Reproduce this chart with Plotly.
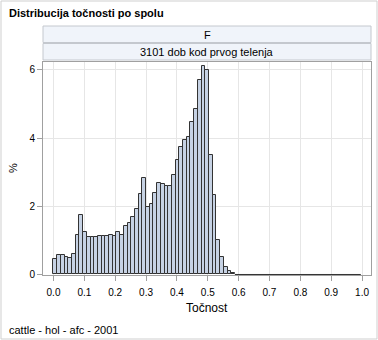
import plotly.graph_objects as go

# ---- data ----
BIN_START = 0.0
BIN_WIDTH = 0.012
N_BINS = 83
percent_nonzero = [
    0.45, 0.57, 0.57, 0.52, 0.47, 0.61, 1.16, 1.74, 1.26, 1.11,
    1.10, 1.09, 1.12, 1.13, 1.13, 1.15, 1.14, 1.24, 1.17, 1.43,
    1.52, 1.68, 1.92, 2.36, 2.82, 1.97, 2.07, 2.38, 2.69, 2.66,
    2.60, 2.60, 2.91, 3.36, 3.73, 3.94, 4.02, 4.47, 4.84, 5.70,
    6.10, 6.00, 3.49, 2.32, 1.01, 0.52, 0.21, 0.09, 0.03,
]
percent = percent_nonzero + [0.0] * (N_BINS - len(percent_nonzero))
x_ticks = [0.0, 0.1, 0.2, 0.3, 0.4, 0.5, 0.6, 0.7, 0.8, 0.9, 1.0]
y_ticks = [0, 2, 4, 6]
title_text = "Distribucija točnosti po spolu"
strip1_text = "F"
strip2_text = "3101 dob kod prvog telenja"
x_label = "Točnost"
y_label = "%"
footnote = "cattle - hol - afc - 2001"

# ---- layout geometry (pixels) ----
W, H = 378, 340
L, R, T, B = 43, 7, 62, 65
PW, PH = W - L - R, H - T - B


def px(x):
    return (x - L) / PW


def py(y):
    return (H - B - y) / PH


FONT = "Liberation Sans, Arial, sans-serif"

centers = [BIN_START + (i + 0.5) * BIN_WIDTH for i in range(N_BINS)]
bar_x = [c for c, v in zip(centers, percent) if v > 0]
bar_y = [v for v in percent if v > 0]
zero_edges = []
for c, v in zip(centers, percent):
    if v == 0:
        zero_edges += [c - BIN_WIDTH / 2, c + BIN_WIDTH / 2]
zero_x = [min(zero_edges), max(zero_edges)] if zero_edges else []

fig = go.Figure()
fig.add_trace(go.Bar(
    x=bar_x, y=bar_y, width=BIN_WIDTH,
    marker=dict(color="#C6D2E4", line=dict(color="#333333", width=1)),
    hoverinfo="skip", showlegend=False,
))
if zero_x:
    fig.add_trace(go.Scatter(
        x=zero_x, y=[0, 0], mode="lines",
        line=dict(color="#333333", width=1),
        hoverinfo="skip", showlegend=False,
    ))

fig.update_layout(
    width=W, height=H,
    margin=dict(l=L, r=R, t=T, b=B),
    paper_bgcolor="white", plot_bgcolor="white",
    font=dict(family=FONT, size=10, color="#000000"),
    bargap=0,
    xaxis=dict(
        range=[-0.034, 1.029], tickvals=x_ticks, tickformat=".1f",
        showgrid=True, gridcolor="#E6E6E6", gridwidth=1,
        showline=True, linecolor="#A0A0A0", linewidth=1, mirror=True,
        ticks="outside", ticklen=5, tickcolor="#A0A0A0",
        ticklabelstandoff=3,
        tickfont=dict(size=10, family=FONT), zeroline=False,
    ),
    yaxis=dict(
        range=[-0.015, 6.23], tickvals=y_ticks,
        showgrid=True, gridcolor="#E6E6E6", gridwidth=1,
        showline=True, linecolor="#A0A0A0", linewidth=1, mirror=True,
        ticks="outside", ticklen=5, tickcolor="#A0A0A0",
        tickfont=dict(size=10, family=FONT), zeroline=False,
    ),
    shapes=[
        # outer border
        dict(type="rect", xref="paper", yref="paper",
             x0=px(1), x1=px(377), y0=py(339), y1=py(1),
             line=dict(color="#CFCFCF", width=1), fillcolor="rgba(0,0,0,0)",
             layer="below"),
        # strip 1
        dict(type="rect", xref="paper", yref="paper",
             x0=0, x1=1, y0=py(42.5), y1=py(26),
             line=dict(color="#C4C8CE", width=1), fillcolor="#F0F4FA"),
        # strip 2
        dict(type="rect", xref="paper", yref="paper",
             x0=0, x1=1, y0=py(60), y1=py(43.5),
             line=dict(color="#C4C8CE", width=1), fillcolor="#F0F4FA"),
    ],
    annotations=[
        dict(text="<b>" + title_text + "</b>", xref="paper", yref="paper",
             x=px(7), y=py(13), xanchor="left", yanchor="middle",
             showarrow=False, font=dict(size=11, family=FONT)),
        dict(text=strip1_text, xref="paper", yref="paper",
             x=0.5, y=py(34.5), xanchor="center", yanchor="middle",
             showarrow=False, font=dict(size=11, family=FONT)),
        dict(text=strip2_text, xref="paper", yref="paper",
             x=0.5, y=py(51.5), xanchor="center", yanchor="middle",
             showarrow=False, font=dict(size=11, family=FONT)),
        dict(text=x_label, xref="paper", yref="paper",
             x=px(207), y=py(308), xanchor="center", yanchor="middle",
             showarrow=False, font=dict(size=12, family=FONT)),
        dict(text=y_label, xref="paper", yref="paper",
             x=px(13), y=py(168), xanchor="center", yanchor="middle",
             textangle=-90, showarrow=False, font=dict(size=11, family=FONT)),
        dict(text=footnote, xref="paper", yref="paper",
             x=px(7), y=py(330), xanchor="left", yanchor="middle",
             showarrow=False, font=dict(size=11, family=FONT)),
    ],
)

fig.write_html("out.html")
